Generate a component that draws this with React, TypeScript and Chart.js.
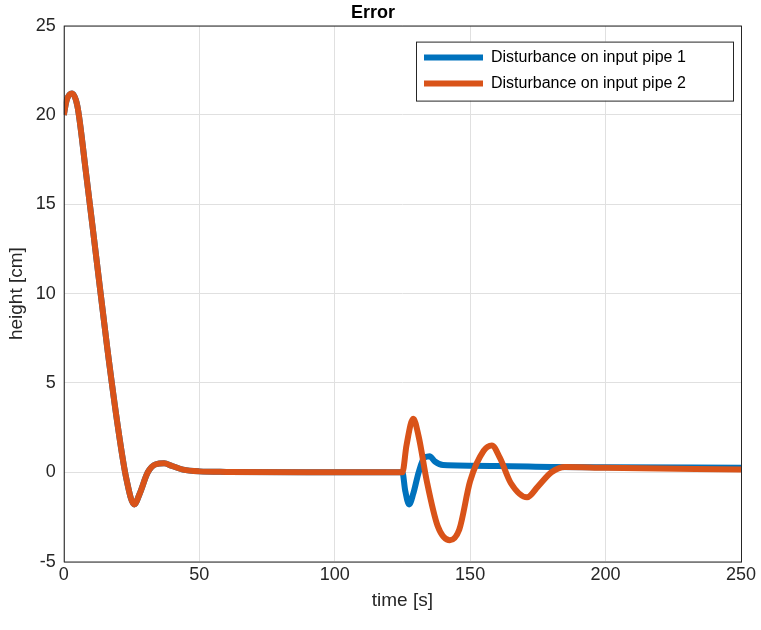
import { useEffect, useRef } from "react";
import Chart from "chart.js/auto";

const startT = [0, 1, 3, 5, 8, 12, 16, 20, 23, 26, 28, 31, 34, 37, 40, 44, 50, 60, 90, 125];
const startY = [20, 20.8, 21.2, 20.5, 17, 12, 7, 2.5, -0.3, -1.8, -1.2, 0, 0.45, 0.5, 0.35, 0.15, 0.05, 0.02, 0, 0];

const pipe1T = [126, 127.5, 129, 131, 133, 135, 137, 140, 160, 180, 200, 250];
const pipe1Y = [-1, -1.8, -1.2, 0, 0.8, 0.9, 0.6, 0.4, 0.35, 0.3, 0.28, 0.25];

const pipe2T = [126.5, 129, 131, 134, 138, 142.5, 146, 150, 155, 158, 161, 165, 171, 175, 180, 185, 200, 250];
const pipe2Y = [1.5, 3.0, 2.0, -0.5, -3, -3.8, -3.2, -0.5, 1.2, 1.5, 0.8, -0.6, -1.4, -0.8, 0, 0.3, 0.25, 0.15];

const labels = ["Disturbance on input pipe 1", "Disturbance on input pipe 2"];
const colors = ["#0072BD", "#D95319"];

const toPoints = (t: number[], y: number[]) => t.map((x, i) => ({ x, y: y[i] }));

export default function App() {
  const ref = useRef<HTMLCanvasElement>(null);

  useEffect(() => {
    if (!ref.current) return;
    const font = "Liberation Sans, Arial, sans-serif";

    const boxPlugin = {
      id: "box",
      afterDraw(chart: any) {
        const { ctx, chartArea: a } = chart;
        ctx.save();
        ctx.strokeStyle = "#262626";
        ctx.lineWidth = 1;
        ctx.strokeRect(a.left + 0.5, a.top + 0.5, a.right - a.left, a.bottom - a.top);
        // legend
        const w = 317, h = 59, x = a.right - w - 8, y = a.top + 16;
        ctx.fillStyle = "#fff";
        ctx.fillRect(x, y, w, h);
        ctx.strokeStyle = "#262626";
        ctx.strokeRect(x + 0.5, y + 0.5, w, h);
        ctx.font = `16px ${font}`;
        ctx.textBaseline = "middle";
        labels.forEach((l, i) => {
          const ly = y + 16 + i * 26;
          ctx.strokeStyle = colors[i];
          ctx.lineWidth = 6;
          ctx.beginPath();
          ctx.moveTo(x + 8, ly);
          ctx.lineTo(x + 67, ly);
          ctx.stroke();
          ctx.fillStyle = "#000";
          ctx.fillText(l, x + 75, ly);
        });
        ctx.restore();
      },
    };

    const chart = new Chart(ref.current, {
      type: "line",
      data: {
        datasets: [
          {
            label: labels[0],
            data: toPoints([...startT, ...pipe1T], [...startY, ...pipe1Y]),
            borderColor: colors[0],
            borderWidth: 6,
            pointRadius: 0,
            cubicInterpolationMode: "monotone",
            order: 1,
          },
          {
            label: labels[1],
            data: toPoints([...startT, ...pipe2T], [...startY, ...pipe2Y]),
            borderColor: colors[1],
            borderWidth: 6,
            pointRadius: 0,
            cubicInterpolationMode: "monotone",
            order: 0,
          },
        ],
      },
      options: {
        animation: false,
        responsive: false,
        layout: { padding: { right: 20, top: 0, left: 5, bottom: 18 } },
        plugins: {
          legend: { display: false },
          tooltip: { enabled: false },
          title: {
            display: true,
            text: "Error",
            color: "#000",
            font: { family: font, size: 18, weight: "bold" },
            padding: { top: 2, bottom: 2 },
          },
        },
        scales: {
          x: {
            type: "linear",
            min: 0,
            max: 250,
            ticks: { stepSize: 50, color: "#262626", font: { family: font, size: 18 } },
            grid: { color: "#e0e0e0", drawTicks: false },
            border: { display: false },
            title: { display: true, text: "time [s]", color: "#262626", font: { family: font, size: 19 }, padding: 0 },
          },
          y: {
            min: -5,
            max: 25,
            ticks: { stepSize: 5, color: "#262626", font: { family: font, size: 18 }, padding: 8 },
            grid: { color: "#e0e0e0", drawTicks: false },
            border: { display: false },
            title: { display: true, text: "height [cm]", color: "#262626", font: { family: font, size: 19 }, padding: 0 },
          },
        },
      },
      plugins: [boxPlugin],
    });
    return () => chart.destroy();
  }, []);

  return (
    <div style={{ position: "fixed", left: 0, top: 0, width: 761, height: 630, background: "#fff" }}>
      <canvas ref={ref} width={761} height={630} />
    </div>
  );
}
